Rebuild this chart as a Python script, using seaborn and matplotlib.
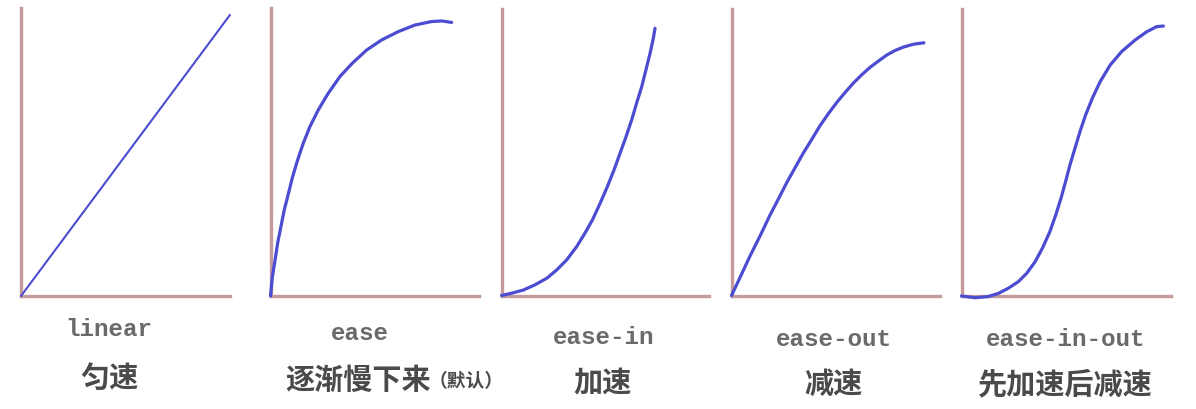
import matplotlib
matplotlib.use("Agg")
import matplotlib.pyplot as plt
import seaborn as sns
import pandas as pd

# ---- data (normalized to each panel's axes) ----
names_en = ["linear", "ease", "ease-in", "ease-out", "ease-in-out"]
names_zh = ["匀速", "逐渐慢下来", "加速", "减速", "先加速后减速"]
note_zh = "（默认）"

linear_x = [0.0, 1.0]
linear_y = [0.0, 0.976]

ease_x = [0.0, 0.009, 0.022, 0.034, 0.050, 0.066, 0.086, 0.106, 0.130, 0.157, 0.189,
          0.229, 0.277, 0.333, 0.392, 0.461, 0.533, 0.613, 0.693, 0.773, 0.821, 0.869]
ease_y = [0.0, 0.067, 0.125, 0.183, 0.241, 0.299, 0.356, 0.414, 0.472, 0.530, 0.588,
          0.646, 0.704, 0.762, 0.808, 0.854, 0.889, 0.918, 0.941, 0.953, 0.955, 0.950]

easein_x = [0.0, 0.049, 0.105, 0.161, 0.218, 0.266, 0.314, 0.362, 0.402, 0.438, 0.475,
            0.510, 0.542, 0.571, 0.600, 0.627, 0.651, 0.676, 0.696, 0.716, 0.730, 0.740]
easein_y = [0.0, 0.008, 0.019, 0.037, 0.060, 0.089, 0.124, 0.170, 0.217, 0.263, 0.321,
            0.379, 0.437, 0.495, 0.553, 0.611, 0.670, 0.728, 0.786, 0.844, 0.890, 0.931]

easeout_x = [0.0, 0.041, 0.089, 0.137, 0.185, 0.225, 0.265, 0.305, 0.345, 0.385, 0.424,
             0.464, 0.504, 0.544, 0.584, 0.624, 0.664, 0.704, 0.744, 0.784, 0.824, 0.872, 0.923]
easeout_y = [0.0, 0.063, 0.138, 0.208, 0.281, 0.337, 0.394, 0.446, 0.498, 0.545, 0.592,
             0.634, 0.673, 0.708, 0.741, 0.770, 0.796, 0.818, 0.839, 0.855, 0.867, 0.877, 0.882]

easeinout_x = [0.0, 0.065, 0.128, 0.176, 0.224, 0.272, 0.312, 0.352, 0.387, 0.423, 0.451,
               0.476, 0.498, 0.519, 0.543, 0.567, 0.594, 0.626, 0.663, 0.711, 0.766, 0.830,
               0.886, 0.934, 0.966]
easeinout_y = [0.0, -0.006, -0.002, 0.009, 0.027, 0.050, 0.079, 0.119, 0.166, 0.224, 0.282,
               0.340, 0.398, 0.456, 0.514, 0.572, 0.630, 0.688, 0.745, 0.803, 0.850, 0.890,
               0.919, 0.937, 0.939]

series_x = [linear_x, ease_x, easein_x, easeout_x, easeinout_x]
series_y = [linear_y, ease_y, easein_y, easeout_y, easeinout_y]

# ---- layout ----
W, H = 1196, 409
sns.set_theme(style="white")
plt.rcParams["font.family"] = ["Noto Sans CJK SC", "DejaVu Sans"]

fig = plt.figure(figsize=(W / 100, H / 100), dpi=100)
fig.patch.set_facecolor("white")

# pixel boxes: (left, right, top, bottom)
boxes = [(21, 230, 8, 296), (270.5, 479, 8, 296), (501.5, 709, 8.5, 295.5),
         (731.5, 940, 9, 295.5), (961.5, 1170.5, 8.5, 296)]
en_pos = [(109, 330), (360, 334), (604, 337), (834, 339), (1066, 340)]
zh_pos = [(109, 378), (358, 380), (603, 383), (833, 384), (1065, 384)]

axis_color = "#c49a9a"
curve_color = "#4c4cd2"

for i, (l, r, t, b) in enumerate(boxes):
    ax = fig.add_axes([l / W, 1 - b / H, (r - l) / W, (b - t) / H])
    df = pd.DataFrame({"x": series_x[i], "y": series_y[i]})
    lw = 1.5 if i == 0 else 2.3
    sns.lineplot(data=df, x="x", y="y", sort=False, ax=ax, color=curve_color,
                 linewidth=lw, clip_on=False, solid_capstyle="round",
                 solid_joinstyle="round")
    ax.set_xlim(0, 1)
    ax.set_ylim(0, 1)
    ax.set_xticks([])
    ax.set_yticks([])
    ax.set_xlabel("")
    ax.set_ylabel("")
    ax.set_facecolor("none")
    for s in ["top", "right"]:
        ax.spines[s].set_visible(False)
    for s in ["left", "bottom"]:
        ax.spines[s].set_color(axis_color)
        ax.spines[s].set_linewidth(2.4)
        ax.spines[s].set_zorder(0)

for i in range(5):
    x, y = en_pos[i]
    fig.text(x / W, 1 - y / H, names_en[i], ha="center", va="center",
             family=["Liberation Mono"], fontsize=17.5, fontweight="bold", color="#6a6a6a")
    x, y = zh_pos[i]
    fig.text(x / W, 1 - y / H, names_zh[i], ha="center", va="center",
             family=["Noto Sans CJK SC", "DejaVu Sans"], fontsize=21, fontweight="bold",
             color="#4a4a4a")

fig.text(429 / W, 1 - 382 / H, note_zh, ha="left", va="center",
         family=["Noto Sans CJK SC", "DejaVu Sans"], fontsize=13.5, fontweight="bold", color="#4a4a4a")

fig.savefig("out.png", dpi=100, facecolor="white")
